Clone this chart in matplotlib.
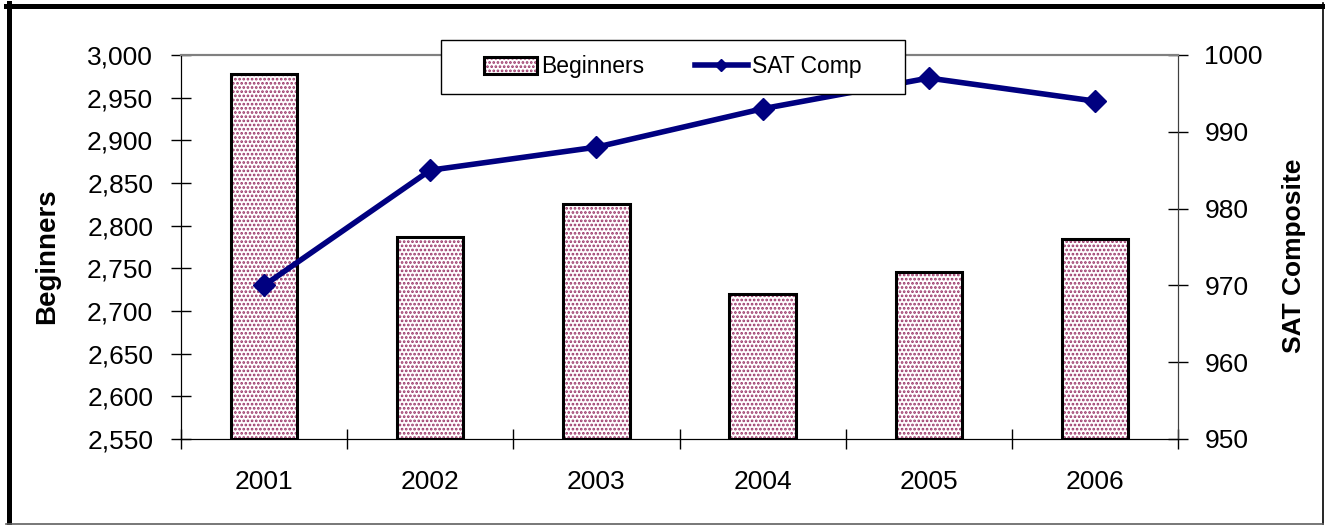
import matplotlib
matplotlib.use("Agg")
import matplotlib.pyplot as plt
import numpy as np
from matplotlib.patches import Patch, Rectangle
from matplotlib.lines import Line2D
from matplotlib.ticker import FuncFormatter

# data
years = ["2001", "2002", "2003", "2004", "2005", "2006"]
beginners = [2978, 2787, 2825, 2720, 2746, 2784]
sat_comp = [970, 985, 988, 993, 997, 994]

plt.rcParams['font.family'] = ['Liberation Sans', 'DejaVu Sans']
plt.rcParams['hatch.linewidth'] = 1.3

W, H = 1325, 525
fig = plt.figure(figsize=(W / 100, H / 100), dpi=100)
ax = fig.add_axes([181 / W, 1 - 439 / H, (1178 - 181) / W, (439 - 55) / H])
ax2 = ax.twinx()

x = np.arange(len(years))
maroon = '#993366'
navy = '#000080'

# bars: hatched fill first, then black outline on top
ax.bar(x, np.array(beginners) - 2550, bottom=2550, width=0.4, color='white',
       edgecolor=maroon, hatch='....', linewidth=0, zorder=2)
ax.bar(x, np.array(beginners) - 2550, bottom=2550, width=0.4, fill=False,
       edgecolor='black', linewidth=2.2, zorder=3)

ax.set_xlim(-0.5, len(years) - 0.5)
ax.set_ylim(2550, 3000)
ax.set_yticks(np.arange(2550, 3001, 50))
ax.yaxis.set_major_formatter(FuncFormatter(lambda v, p: f"{int(v):,}"))
ax.set_xticks(np.arange(-0.5, len(years), 1))
ax.set_xticklabels([])
ax.set_xticks(x, minor=True)
ax.set_xticklabels(years, minor=True)
ax.tick_params(axis='x', which='major', direction='inout', length=14, width=1)
ax.tick_params(axis='x', which='minor', length=0, pad=22, labelsize=19)
ax.tick_params(axis='y', direction='inout', length=14, width=1, pad=13, labelsize=19)
ax.set_ylabel("Beginners", fontsize=20, fontweight='bold')
ax.yaxis.set_label_coords(-0.121, 0.477)

ax2.plot(x, sat_comp, color=navy, linewidth=4, marker='D', markersize=11, zorder=4)
ax2.set_ylim(950, 1000)
ax2.set_yticks(np.arange(950, 1001, 10))
ax2.tick_params(axis='y', direction='inout', length=14, width=1, pad=12, labelsize=19)
ax2.set_ylabel("SAT Composite", fontsize=19, fontweight='bold')
ax2.yaxis.set_label_coords(1.104, 0.477)

for a in (ax, ax2):
    a.spines['top'].set_color('#808080')
    a.spines['top'].set_linewidth(1.5)
    a.spines['left'].set_color('black')
    a.spines['right'].set_color('#404040')
    a.spines['bottom'].set_color('black')

# legend box sitting over the top edge of the plot area
fig.patches.append(Rectangle((441 / W, 1 - 94 / H), 464 / W, 54 / H, transform=fig.transFigure,
                             facecolor='white', edgecolor='black', linewidth=1, zorder=3))
h_bar = (Patch(facecolor='white', edgecolor=maroon, hatch='....', linewidth=0),
         Patch(fill=False, edgecolor='black', linewidth=2.2))
h_line = Line2D([], [], color=navy, linewidth=4, marker='D', markersize=6)
leg = fig.legend([h_bar, h_line], ["Beginners", "SAT Comp"], ncol=2, frameon=False,
                 loc='center', bbox_to_anchor=(673 / W, 1 - 67 / H), fontsize=16.5,
                 handlelength=2.3, handletextpad=0.2, columnspacing=2.2)
leg.set_zorder(6)

# outer frame of the chart
fig.add_artist(Line2D([6 / W, 1323 / W], [1 - 5.5 / H, 1 - 5.5 / H], transform=fig.transFigure,
                      color='black', linewidth=3.6, zorder=4))
fig.add_artist(Line2D([8.5 / W, 8.5 / W], [1 - 3 / H, 1 - 524 / H], transform=fig.transFigure,
                      color='black', linewidth=3.6, zorder=4))
fig.add_artist(Line2D([1323 / W, 1323 / W], [1 - 3 / H, 1 - 524 / H], transform=fig.transFigure,
                      color='black', linewidth=1.2, zorder=4))
fig.add_artist(Line2D([6 / W, 1323 / W], [1 - 523.5 / H, 1 - 523.5 / H], transform=fig.transFigure,
                      color='#606060', linewidth=1.2, zorder=4))

# title is cut off by the top of the picture, only descenders peek through
fig.text(373 / W, 1 + 4.5 / H, "Beginning Freshmen by Year and Mean SAT Composite",
         family=['Liberation Serif', 'DejaVu Serif'], fontweight='bold', fontsize=16,
         ha='left', va='baseline', zorder=1)

fig.savefig("out.png", dpi=100)
